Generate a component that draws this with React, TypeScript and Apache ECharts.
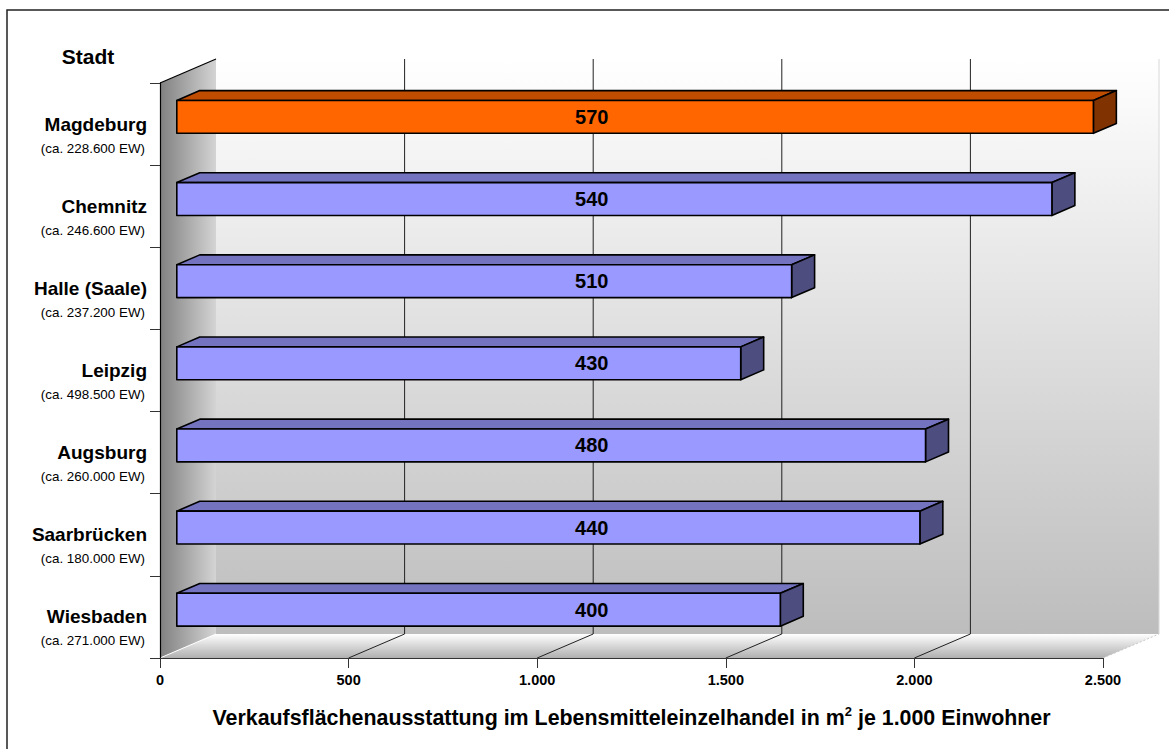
import React, { useEffect, useRef } from 'react';
import * as echarts from 'echarts';

const CITIES = ['Magdeburg', 'Chemnitz', 'Halle (Saale)', 'Leipzig', 'Augsburg', 'Saarbrücken', 'Wiesbaden'];
const POPULATION = [
  '(ca. 228.600 EW)',
  '(ca. 246.600 EW)',
  '(ca. 237.200 EW)',
  '(ca. 498.500 EW)',
  '(ca. 260.000 EW)',
  '(ca. 180.000 EW)',
  '(ca. 271.000 EW)',
];
const AREA_PER_1000 = [2430, 2320, 1630, 1495, 1985, 1970, 1600];
const BAR_LABELS = [570, 540, 510, 430, 480, 440, 400];
const HIGHLIGHT = [1, 0, 0, 0, 0, 0, 0];
const X_TICKS = [0, 500, 1000, 1500, 2000, 2500];
const X_TICK_LABELS = ['0', '500', '1.000', '1.500', '2.000', '2.500'];
const LABEL_AT = 1100;

const FONT = 'Liberation Sans, Arial, sans-serif';
const DEPTH_X = 56;
const DEPTH_Y = -24;
const COLORS_HL = ['#FF6600', '#C04C00', '#803300'];
const COLORS_NORMAL = ['#9999FF', '#7373C0', '#4D4D80'];

export default function App() {
  const ref = useRef<HTMLDivElement>(null);

  useEffect(() => {
    if (!ref.current) return;
    const chart = echarts.init(ref.current, undefined, { renderer: 'svg' });

    const barData = CITIES.map((_, i) => [i, AREA_PER_1000[i], BAR_LABELS[i], HIGHLIGHT[i]]);

    const option: any = {
      animation: false,
      backgroundColor: '#ffffff',
      grid: { left: 160, top: 83, width: 943, height: 575, containLabel: false },
      graphic: [
        {
          type: 'rect',
          shape: { x: 7, y: 10, width: 1200, height: 800 },
          style: { fill: 'none', stroke: '#222', lineWidth: 1.5 },
          silent: true,
        },
        {
          type: 'text',
          x: 88,
          y: 56,
          style: {
            text: 'Stadt',
            fontFamily: FONT,
            fontWeight: 'bold',
            fontSize: 21,
            fill: '#000',
            align: 'center',
            verticalAlign: 'middle',
          },
        },
      ],
      xAxis: {
        type: 'value',
        min: 0,
        max: 2500,
        interval: 500,
        z: 10,
        axisLine: { show: true, lineStyle: { color: '#333', width: 1 } },
        axisTick: { show: true, length: 10, lineStyle: { color: '#333' } },
        splitLine: { show: false },
        axisLabel: {
          margin: 14,
          fontFamily: FONT,
          fontWeight: 'bold',
          fontSize: 14.5,
          color: '#000',
          formatter: (v: number) => {
            const idx = X_TICKS.indexOf(v);
            return idx >= 0 ? X_TICK_LABELS[idx] : String(v);
          },
        },
        name: '{t|Verkaufsflächenausstattung im Lebensmitteleinzelhandel in m}{s|2}{t| je 1.000 Einwohner}',
        nameLocation: 'middle',
        nameGap: 47,
        nameTextStyle: {
          rich: {
            t: { fontFamily: FONT, fontWeight: 'bold', fontSize: 21.4, color: '#000', lineHeight: 26 },
            s: { fontFamily: FONT, fontWeight: 'bold', fontSize: 13, color: '#000', lineHeight: 26, padding: [0, 0, 13, 0] },
          },
        },
      },
      yAxis: {
        type: 'category',
        data: CITIES,
        inverse: true,
        z: 10,
        axisLine: { show: true, lineStyle: { color: '#000', width: 1.2 } },
        axisTick: { show: true, length: 10, alignWithLabel: false, lineStyle: { color: '#333' } },
        splitLine: { show: false },
        axisLabel: {
          margin: 13,
          padding: [24, 0, 0, 0],
          formatter: (val: string, idx: number) => `{n|${val}}\n{p|${POPULATION[idx]}}`,
          rich: {
            n: { fontFamily: FONT, fontWeight: 'bold', fontSize: 19, lineHeight: 24, color: '#000', align: 'right' },
            p: { fontFamily: FONT, fontSize: 13.4, lineHeight: 24, color: '#000', align: 'right', padding: [0, 2, 0, 0] },
          },
        },
      },
      series: [
        {
          type: 'custom',
          name: 'walls',
          z: 1,
          silent: true,
          clip: false,
          data: [[0, 0]],
          encode: { x: 1, y: 0 },
          renderItem: (params: any, api: any) => {
            const cs = params.coordSys;
            const x0 = cs.x;
            const y0 = cs.y;
            const x1 = cs.x + cs.width;
            const y1 = cs.y + cs.height;
            const dx = DEPTH_X;
            const dy = DEPTH_Y;
            const children: any[] = [];
            children.push({
              type: 'rect',
              shape: { x: x0 + dx, y: y0 + dy, width: cs.width, height: cs.height },
              style: {
                fill: new echarts.graphic.LinearGradient(0, 0, 0, 1, [
                  { offset: 0, color: '#ffffff' },
                  { offset: 1, color: '#bdbdbd' },
                ]),
              },
            });
            children.push({
              type: 'polygon',
              shape: { points: [[x0, y1], [x1, y1], [x1 + dx, y1 + dy], [x0 + dx, y1 + dy]] },
              style: {
                fill: new echarts.graphic.LinearGradient(0, 0, 0, 1, [
                  { offset: 0, color: '#ffffff' },
                  { offset: 1, color: '#b0b0b0' },
                ]),
              },
            });
            children.push({
              type: 'polygon',
              shape: { points: [[x0, y0], [x0 + dx, y0 + dy], [x0 + dx, y1 + dy], [x0, y1]] },
              style: {
                fill: new echarts.graphic.LinearGradient(0, 0, 1, 0, [
                  { offset: 0, color: '#808080' },
                  { offset: 1, color: '#d4d4d4' },
                ]),
              },
            });
            children.push({
              type: 'line',
              shape: { x1: x0, y1: y0, x2: x0 + dx, y2: y0 + dy },
              style: { stroke: '#000', lineWidth: 1.2 },
            });
            children.push({
              type: 'line',
              shape: { x1: x0, y1: y1, x2: x0 + dx, y2: y1 + dy },
              style: { stroke: '#ffffff', lineWidth: 1 },
            });
            children.push({
              type: 'line',
              shape: { x1: x1 + dx, y1: y0 + dy, x2: x1 + dx, y2: y1 + dy },
              style: { stroke: '#d8d8d8', lineWidth: 1 },
            });
            children.push({
              type: 'line',
              shape: { x1: x1, y1: y1, x2: x1 + dx, y2: y1 + dy },
              style: { stroke: '#c8c8c8', lineWidth: 1, lineDash: [2, 2] },
            });
            X_TICKS.forEach((v) => {
              if (v === X_TICKS[0] || v === X_TICKS[X_TICKS.length - 1]) return;
              const px = api.coord([v, 0])[0];
              children.push({
                type: 'line',
                shape: { x1: px + dx, y1: y0 + dy, x2: px + dx, y2: y1 + dy },
                style: { stroke: '#222', lineWidth: 1 },
              });
              children.push({
                type: 'line',
                shape: { x1: px, y1: y1, x2: px + dx, y2: y1 + dy },
                style: { stroke: '#222', lineWidth: 1 },
              });
            });
            return { type: 'group', children };
          },
        },
        {
          type: 'custom',
          name: 'bars',
          z: 3,
          clip: false,
          data: barData,
          encode: { x: 1, y: 0 },
          renderItem: (params: any, api: any) => {
            const cat = api.value(0);
            const v = api.value(1);
            const label = api.value(2);
            const hl = api.value(3) === 1;
            const cols = hl ? COLORS_HL : COLORS_NORMAL;
            const s = api.coord([0, cat]);
            const e = api.coord([v, cat]);
            const band = api.size([0, 1])[1];
            const h = band * 0.4;
            const fF = 0.3;
            const fB = 0.71;
            const fx = DEPTH_X * fF;
            const fy = DEPTH_Y * fF;
            const bx = DEPTH_X * fB;
            const by = DEPTH_Y * fB;
            const cy = s[1] + fy;
            const top1 = cy - h / 2;
            const bot1 = cy + h / 2;
            const top2 = top1 + (by - fy);
            const bot2 = bot1 + (by - fy);
            const xs = s[0] + fx;
            const xe = e[0] + fx;
            const xs2 = s[0] + bx;
            const xe2 = e[0] + bx;
            const lx = api.coord([LABEL_AT, cat])[0] + fx;
            const stroke = { stroke: '#000', lineWidth: 1.6, lineJoin: 'round' };
            return {
              type: 'group',
              children: [
                {
                  type: 'polygon',
                  shape: { points: [[xs, top1], [xe, top1], [xe2, top2], [xs2, top2]] },
                  style: { fill: cols[1], ...stroke },
                },
                {
                  type: 'polygon',
                  shape: { points: [[xe, top1], [xe2, top2], [xe2, bot2], [xe, bot1]] },
                  style: { fill: cols[2], ...stroke },
                },
                {
                  type: 'rect',
                  shape: { x: xs, y: top1, width: xe - xs, height: h },
                  style: { fill: cols[0], ...stroke },
                },
                {
                  type: 'text',
                  x: lx,
                  y: cy,
                  style: {
                    text: String(label),
                    fontFamily: FONT,
                    fontWeight: 'bold',
                    fontSize: 20,
                    fill: '#000',
                    align: 'center',
                    verticalAlign: 'middle',
                  },
                },
              ],
            };
          },
        },
      ],
    };

    chart.setOption(option);
    return () => chart.dispose();
  }, []);

  return (
    <div
      ref={ref}
      style={{ position: 'absolute', left: 0, top: 0, width: 1169, height: 749, background: '#fff' }}
    />
  );
}
